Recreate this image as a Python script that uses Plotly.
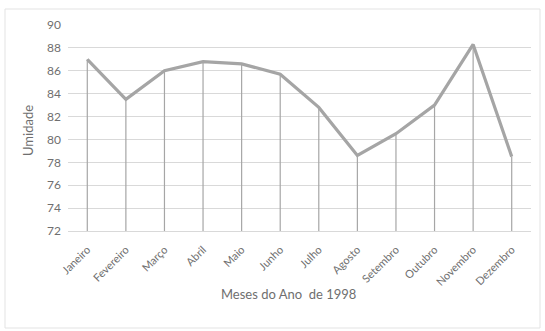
import plotly.graph_objects as go

months = ["Janeiro", "Fevereiro", "Março", "Abril", "Maio", "Junho", "Julho",
          "Agosto", "Setembro", "Outubro", "Novembro", "Dezembro"]
umidade = [87.0, 83.5, 86.0, 86.8, 86.6, 85.7, 82.8, 78.6, 80.5, 83.0, 88.3, 78.5]
y_min, y_max = 72, 90
y_ticks = list(range(72, 91, 2))

font_family = "Lato, 'Open Sans', sans-serif"
txt = "#6f6f6f"

W, H = 545, 331
L, R, T, B = 68, 14, 25, 100
pw, ph = W - L - R, H - T - B

fig = go.Figure()
# drop lines from each point to the axis
fig.add_trace(go.Scatter(
    x=months, y=umidade, mode="markers",
    marker=dict(size=0.1, color="rgba(0,0,0,0)"),
    error_y=dict(type="data", symmetric=False, array=[0] * len(umidade),
                 arrayminus=[v - y_min for v in umidade],
                 color="#a6a6a6", thickness=1.2, width=0),
    hoverinfo="skip", showlegend=False))
fig.add_trace(go.Scatter(
    x=months, y=umidade, mode="lines",
    line=dict(color="#a5a5a5", width=3.2),
    showlegend=False))

fig.update_layout(
    width=W, height=H,
    margin=dict(l=L, r=R, t=T, b=B, autoexpand=False),
    paper_bgcolor="white", plot_bgcolor="white",
    font=dict(family=font_family, size=12, color=txt),
    xaxis=dict(type="category", range=[-0.5, 11.5], tickangle=-45,
               automargin=False, ticklabelstandoff=7,
               showgrid=False, showline=True, linecolor="#d9d9d9",
               ticks="", tickfont=dict(size=11, color=txt)),
    yaxis=dict(range=[y_min, y_max], tickvals=y_ticks, showgrid=True,
               automargin=False,
               gridcolor="#d9d9d9", gridwidth=1, zeroline=False,
               showline=False, ticks="", ticklabelstandoff=6,
               tickfont=dict(size=12, color=txt)),
    shapes=[dict(type="rect", xref="paper", yref="paper",
                 x0=(5 - L) / pw, x1=(540 - L) / pw,
                 y0=-(B - 3) / ph, y1=1 + (T - 9) / ph,
                 line=dict(color="#e3e3e3", width=1))],
    annotations=[
        dict(text="Meses do Ano  de 1998", xref="paper", yref="paper",
             x=(288 - L) / pw, y=-(294 - T - ph) / ph, yanchor="middle",
             showarrow=False, font=dict(size=13, color=txt)),
        dict(text="Umidade", xref="paper", yref="paper", textangle=-90,
             x=(28 - L) / pw, y=(H - B - 131) / ph, xanchor="center",
             yanchor="middle", showarrow=False, font=dict(size=13, color=txt)),
    ],
)

fig.write_html("out.html", config={"displayModeBar": False},
               post_script="document.body.style.margin='0';")
